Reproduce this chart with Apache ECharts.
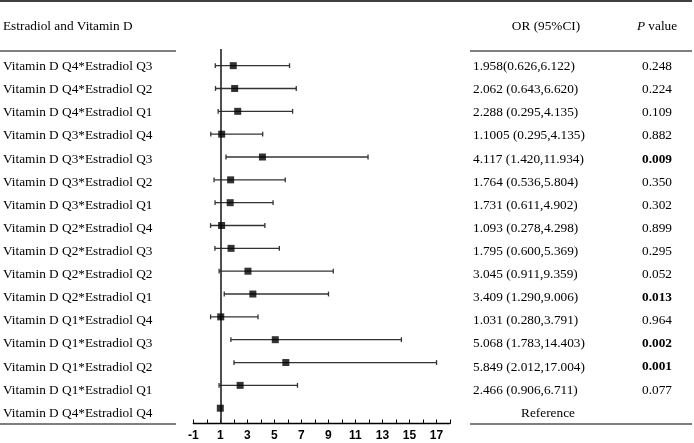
<!DOCTYPE html>
<html><head><meta charset="utf-8">
<script src="https://cdn.jsdelivr.net/npm/echarts@6/dist/echarts.min.js"></script>
<style>html,body{margin:0;padding:0;background:#fff}#c{width:694px;height:443px}</style>
</head><body><div id="c"></div>
<script>
const rowLabels = [
  'Vitamin D Q4*Estradiol Q3','Vitamin D Q4*Estradiol Q2','Vitamin D Q4*Estradiol Q1',
  'Vitamin D Q3*Estradiol Q4','Vitamin D Q3*Estradiol Q3','Vitamin D Q3*Estradiol Q2',
  'Vitamin D Q3*Estradiol Q1','Vitamin D Q2*Estradiol Q4','Vitamin D Q2*Estradiol Q3',
  'Vitamin D Q2*Estradiol Q2','Vitamin D Q2*Estradiol Q1','Vitamin D Q1*Estradiol Q4',
  'Vitamin D Q1*Estradiol Q3','Vitamin D Q1*Estradiol Q2','Vitamin D Q1*Estradiol Q1',
  'Vitamin D Q4*Estradiol Q4'
];
const orValues = [1.958, 2.062, 2.288, 1.1005, 4.117, 1.764, 1.731, 1.093, 1.795, 3.045, 3.409, 1.031, 5.068, 5.849, 2.466, 1];
const ciLower  = [0.626, 0.643, 0.84, 0.295, 1.420, 0.536, 0.611, 0.278, 0.600, 0.911, 1.290, 0.280, 1.783, 2.012, 0.906, null];
const ciUpper  = [6.122, 6.620, 6.35, 4.135, 11.934, 5.804, 4.902, 4.298, 5.369, 9.359, 9.006, 3.791, 14.403, 17.004, 6.711, null];
const orText = [
  '1.958(0.626,6.122)','2.062 (0.643,6.620)','2.288 (0.295,4.135)','1.1005 (0.295,4.135)',
  '4.117 (1.420,11.934)','1.764 (0.536,5.804)','1.731 (0.611,4.902)','1.093 (0.278,4.298)',
  '1.795 (0.600,5.369)','3.045 (0.911,9.359)','3.409 (1.290,9.006)','1.031 (0.280,3.791)',
  '5.068 (1.783,14.403)','5.849 (2.012,17.004)','2.466 (0.906,6.711)','Reference'
];
const pText = ['0.248','0.224','0.109','0.882','0.009','0.350','0.302','0.899','0.295','0.052','0.013','0.964','0.002','0.001','0.077',''];
const pBold = [false,false,false,false,true,false,false,false,false,false,true,false,true,true,false,false];
const xTickLabels = [-1, 1, 3, 5, 7, 9, 11, 13, 15, 17];

const SERIF = 'Liberation Serif';
const FS = 13.3;
const chart = echarts.init(document.getElementById('c'));
const yMin = -0.73, yMax = 15.67;

const ciData = [];
ciLower.forEach((lo, i) => { if (lo != null) ciData.push([lo, ciUpper[i], i]); });
const pointData = orValues.map((v, i) => [v, i]);

chart.setOption({
  animation: false,
  backgroundColor: '#fff',
  grid: [
    { left: 193.3, right: 244, top: 49, bottom: 19.5 },
    { left: 193.3, right: 244, top: 55.1, bottom: 18.2 }
  ],
  xAxis: [
    { gridIndex: 0, type: 'value', min: -1, max: 18, interval: 1,
      axisLine: { onZero: false, lineStyle: { color: '#000', width: 1.3 } },
      axisTick: { inside: true, length: 4, lineStyle: { color: '#000', width: 1 } },
      splitLine: { show: false },
      axisLabel: { formatter: v => xTickLabels.includes(v) ? String(v) : '',
        fontFamily: 'Liberation Sans', fontWeight: 'bold', fontSize: 12, color: '#000', margin: 6,
        showMinLabel: true, showMaxLabel: true, hideOverlap: false } },
    { gridIndex: 1, type: 'value', min: 0, max: 1, show: false }
  ],
  yAxis: [
    { gridIndex: 0, type: 'value', min: yMin, max: yMax, inverse: true, show: false },
    { gridIndex: 1, type: 'category', data: rowLabels, inverse: true, position: 'left',
      axisLine: { show: false }, axisTick: { show: false },
      axisLabel: { align: 'left', margin: 190.3, fontFamily: SERIF, fontSize: FS, color: '#000', interval: 0 } },
    { gridIndex: 1, type: 'category', data: orText, inverse: true, position: 'right',
      axisLine: { show: false }, axisTick: { show: false },
      axisLabel: { align: 'left', margin: 23, fontFamily: SERIF, fontSize: FS, color: '#000', interval: 0,
        formatter: (v) => v === 'Reference' ? '{ref|' + v + '}' : v,
        rich: { ref: { width: 150, align: 'center', fontFamily: SERIF, fontSize: FS, color: '#000' } } } },
    { gridIndex: 1, type: 'category', data: pText, inverse: true, position: 'right', offset: 207,
      axisLine: { show: false }, axisTick: { show: false },
      axisLabel: { align: 'center', margin: 0, fontFamily: SERIF, fontSize: FS, color: '#000', interval: 0,
        formatter: (v, i) => pBold[i] ? '{b|' + v + '}' : v,
        rich: { b: { fontWeight: 'bold', fontFamily: SERIF, fontSize: FS, color: '#000' } } } }
  ],
  series: [
    { type: 'custom', xAxisIndex: 0, yAxisIndex: 0, data: ciData, silent: true,
      renderItem: (params, api) => {
        const lo = api.coord([api.value(0), api.value(2)]);
        const hi = api.coord([api.value(1), api.value(2)]);
        const st = { stroke: '#333', lineWidth: 1.3 };
        const h = 2.4;
        return { type: 'group', children: [
          { type: 'line', shape: { x1: lo[0], y1: lo[1], x2: hi[0], y2: hi[1] }, style: st },
          { type: 'line', shape: { x1: lo[0], y1: lo[1] - h, x2: lo[0], y2: lo[1] + h }, style: st },
          { type: 'line', shape: { x1: hi[0], y1: hi[1] - h, x2: hi[0], y2: hi[1] + h }, style: st }
        ] };
      } },
    { type: 'scatter', xAxisIndex: 0, yAxisIndex: 0, data: pointData, symbol: 'rect', symbolSize: 7,
      itemStyle: { color: '#000' }, z: 5, silent: true,
      markLine: { silent: true, symbol: 'none', label: { show: false },
        lineStyle: { color: '#222', width: 1.6, type: 'solid' },
        data: [[{ coord: [1, yMin] }, { coord: [1, yMax] }]] } }
  ],
  graphic: [
    { type: 'line', shape: { x1: 0, y1: 1, x2: 692, y2: 1 }, style: { stroke: '#000', lineWidth: 1.4 } },
    { type: 'line', shape: { x1: 0, y1: 51, x2: 176, y2: 51 }, style: { stroke: '#000', lineWidth: 1.2 } },
    { type: 'line', shape: { x1: 470, y1: 51, x2: 692, y2: 51 }, style: { stroke: '#000', lineWidth: 1.2 } },
    { type: 'line', shape: { x1: 0, y1: 424, x2: 176, y2: 424 }, style: { stroke: '#000', lineWidth: 1.2 } },
    { type: 'line', shape: { x1: 470, y1: 424, x2: 692, y2: 424 }, style: { stroke: '#000', lineWidth: 1.2 } },
    { type: 'text', x: 3, y: 27, style: { text: 'Estradiol and Vitamin D', font: FS + 'px "Liberation Serif"', fill: '#000', textVerticalAlign: 'middle' } },
    { type: 'text', x: 546, y: 27, style: { text: 'OR (95%CI)', font: FS + 'px "Liberation Serif"', fill: '#000', textAlign: 'center', textVerticalAlign: 'middle' } },
    { type: 'text', x: 657, y: 27, style: { text: '{i|P} value', fontFamily: SERIF, fontSize: FS, fill: '#000', align: 'center', verticalAlign: 'middle',
        rich: { i: { fontStyle: 'italic', fontFamily: SERIF, fontSize: FS } } } }
  ]
});
</script></body></html>
